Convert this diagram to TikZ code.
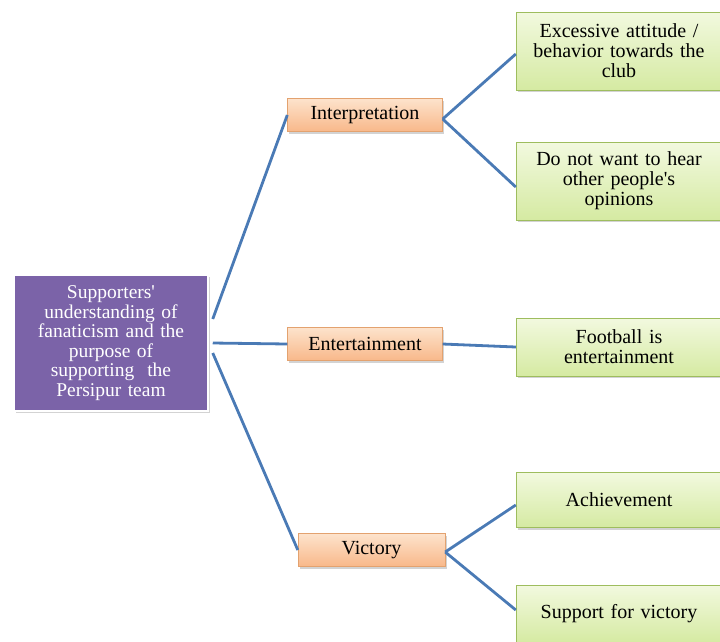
\documentclass[tikz,border=0pt]{standalone}
\usepackage{fontspec}
\setmainfont{Liberation Serif}
\usetikzlibrary{shadows,positioning}
\definecolor{rootfill}{HTML}{7B63A8}
\definecolor{linkblue}{HTML}{4A7AB5}
\definecolor{orangetop}{HTML}{FDE3CC}
\definecolor{orangebot}{HTML}{F8B88A}
\definecolor{orangedraw}{HTML}{E3A26F}
\definecolor{greentop}{HTML}{F2F9DF}
\definecolor{greenbot}{HTML}{D5EAA2}
\definecolor{greendraw}{HTML}{9EBD5E}
\begin{document}
\begin{tikzpicture}[x=1pt,y=-1pt,
  rootbox/.style={draw=white, line width=1.5pt, fill=rootfill, text=white, align=center,
    minimum width=194pt, minimum height=136pt, text width=180pt, inner sep=0pt,
    font=\fontsize{19.5}{19.5}\selectfont, drop shadow={shadow xshift=1.5pt,shadow yshift=-2pt,opacity=0.35}},
  midbox/.style={draw=orangedraw, top color=orangetop, bottom color=orangebot, align=center,
    minimum height=33pt, inner sep=0pt, font=\fontsize{20}{20}\selectfont,
    drop shadow={shadow xshift=1.5pt,shadow yshift=-2pt,opacity=0.35}},
  leafbox/.style={draw=greendraw, top color=greentop, bottom color=greenbot, align=center,
    minimum width=206pt, text width=200pt, inner sep=0pt, font=\fontsize{20}{20}\selectfont,
    drop shadow={shadow xshift=1.5pt,shadow yshift=-2pt,opacity=0.35}},
  link/.style={draw=linkblue, line width=2.8pt}
]
\useasboundingbox (0,0) rectangle (720,641);

\node[rootbox] (root) at (111,343) {Supporters\textquotesingle\\understanding of\\fanaticism and the\\purpose of\\supporting\ \ the\\Persipur team};

\node[midbox, minimum width=155pt] (interp) at (365,115) {Interpretation};
\node[midbox, minimum width=155pt] (ent) at (365,344) {Entertainment};
\node[midbox, minimum width=147pt] (vict) at (371.5,550) {Victory};

\node[leafbox, minimum height=78pt] (l1) at (619,51) {Excessive attitude /\\behavior towards the\\club};
\node[leafbox, minimum height=78pt] (l2) at (619,181) {Do not want to hear\\other people\textquotesingle s\\opinions};
\node[leafbox, minimum height=58pt] (l3) at (619,347) {Football is\\entertainment};
\node[leafbox, minimum height=55pt] (l4) at (619,500) {Achievement};
\node[leafbox, minimum height=58pt] (l5) at (619,614) {Support for victory};

\coordinate (rA) at ([xshift=4pt,yshift=24pt]root.east);
\coordinate (rM) at ([xshift=4pt]root.east);
\coordinate (rB) at ([xshift=4pt,yshift=-10pt]root.east);
\draw[link] (rA) -- (interp.west);
\draw[link] (rM) -- (ent.west);
\draw[link] (rB) -- (vict.west);

\draw[link] ([yshift=-4pt]interp.east) -- ([yshift=-3pt]l1.west);
\draw[link] ([yshift=-4pt]interp.east) -- ([yshift=-6pt]l2.west);
\draw[link] (ent.east) -- (l3.west);
\draw[link] ([yshift=-2pt]vict.east) -- ([yshift=-5pt]l4.west);
\draw[link] ([yshift=-2pt]vict.east) -- ([yshift=4pt]l5.west);
\end{tikzpicture}
\end{document}
